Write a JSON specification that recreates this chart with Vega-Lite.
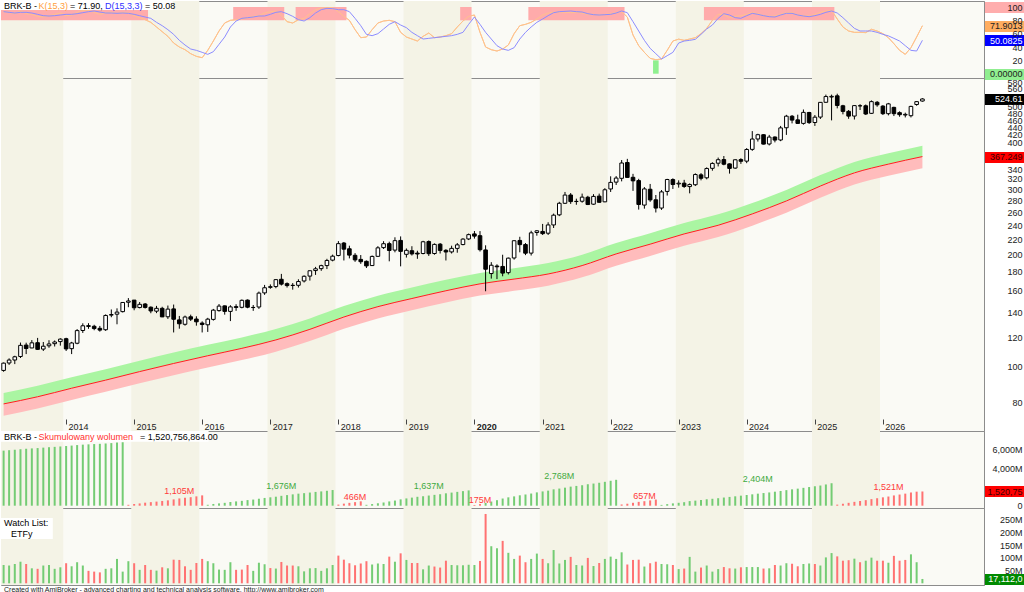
{
  "$schema": "https://vega.github.io/schema/vega-lite/v6.json",
  "padding": 0,
  "background": "#ffffff",
  "spacing": 0,
  "bounds": "flush",
  "config": {
    "font": "Liberation Sans",
    "view": {"stroke": "#8c8c8c", "strokeWidth": 1, "fill": "#fafaf5"},
    "axis": {"labelFont": "Liberation Sans", "labelFontSize": 9, "labelColor": "#222222", "grid": false, "title": null, "labelOverlap": false, "labelSeparation": -40, "labelFlush": false}
  },
  "resolve": {"scale": {"x": "independent"}},
  "datasets": {
    "years": [
      {"s": "2013-01-01", "e": "2014-01-01"},
      {"s": "2015-01-01", "e": "2016-01-01"},
      {"s": "2017-01-01", "e": "2018-01-01"},
      {"s": "2019-01-01", "e": "2020-01-01"},
      {"s": "2021-01-01", "e": "2022-01-01"},
      {"s": "2023-01-01", "e": "2024-01-01"},
      {"s": "2025-01-01", "e": "2026-01-01"}
    ],
    "zones": [
      {"s": "2013-02-01", "e": "2015-04-01", "z": "ob"},
      {"s": "2016-07-01", "e": "2017-04-01", "z": "ob"},
      {"s": "2017-06-01", "e": "2018-03-01", "z": "ob"},
      {"s": "2019-11-01", "e": "2020-01-01", "z": "ob"},
      {"s": "2020-11-01", "e": "2022-04-01", "z": "ob"},
      {"s": "2023-06-01", "e": "2025-05-01", "z": "ob"},
      {"s": "2022-09-01", "e": "2022-10-01", "z": "os"}
    ],
    "ma": [
      {"d": "2013-02", "ma": 79.4, "hi": 84.96, "lo": 73.84},
      {"d": "2013-08", "ma": 83, "hi": 88.81, "lo": 77.19},
      {"d": "2014-02", "ma": 87.5, "hi": 93.63, "lo": 81.38},
      {"d": "2014-08", "ma": 92, "hi": 98.44, "lo": 85.56},
      {"d": "2015-02", "ma": 97, "hi": 103.79, "lo": 90.21},
      {"d": "2015-08", "ma": 102, "hi": 109.14, "lo": 94.86},
      {"d": "2016-02", "ma": 107, "hi": 114.49, "lo": 99.51},
      {"d": "2016-08", "ma": 112, "hi": 119.84, "lo": 104.16},
      {"d": "2017-02", "ma": 118, "hi": 126.26, "lo": 109.74},
      {"d": "2017-08", "ma": 126, "hi": 134.82, "lo": 117.18},
      {"d": "2018-02", "ma": 136, "hi": 145.52, "lo": 126.48},
      {"d": "2018-08", "ma": 145, "hi": 155.15, "lo": 134.85},
      {"d": "2019-02", "ma": 152.5, "hi": 163.18, "lo": 141.83},
      {"d": "2019-08", "ma": 160, "hi": 171.2, "lo": 148.8},
      {"d": "2020-02", "ma": 167, "hi": 178.69, "lo": 155.31},
      {"d": "2020-08", "ma": 172, "hi": 184.04, "lo": 159.96},
      {"d": "2021-02", "ma": 177.5, "hi": 189.93, "lo": 165.08},
      {"d": "2021-08", "ma": 187, "hi": 200.09, "lo": 173.91},
      {"d": "2022-02", "ma": 201, "hi": 215.07, "lo": 186.93},
      {"d": "2022-08", "ma": 213.5, "hi": 228.45, "lo": 198.56},
      {"d": "2023-02", "ma": 227.5, "hi": 243.43, "lo": 211.58},
      {"d": "2023-08", "ma": 240, "hi": 256.8, "lo": 223.2},
      {"d": "2024-02", "ma": 257.5, "hi": 275.53, "lo": 239.48},
      {"d": "2024-08", "ma": 279, "hi": 298.53, "lo": 259.47},
      {"d": "2025-02", "ma": 306, "hi": 327.42, "lo": 284.58},
      {"d": "2025-08", "ma": 332, "hi": 355.24, "lo": 308.76},
      {"d": "2026-02", "ma": 350.5, "hi": 375.04, "lo": 325.97},
      {"d": "2026-08", "ma": 367.25, "hi": 392.96, "lo": 341.54}
    ],
    "cvlab": [
      {"d": "2015-09", "v": 1105, "t": "1,105M", "c": "d"},
      {"d": "2017-03", "v": 1676, "t": "1,676M", "c": "u"},
      {"d": "2018-04", "v": 466, "t": "466M", "c": "d"},
      {"d": "2019-05", "v": 1637, "t": "1,637M", "c": "u"},
      {"d": "2020-02", "v": 175, "t": "175M", "c": "d"},
      {"d": "2021-04", "v": 2768, "t": "2,768M", "c": "u"},
      {"d": "2022-07", "v": 657, "t": "657M", "c": "d"},
      {"d": "2024-03", "v": 2404, "t": "2,404M", "c": "u"},
      {"d": "2026-02", "v": 1521, "t": "1,521M", "c": "d"}
    ],
    "bars": [
      {"d":"2013-02","o":97.7,"h":102.6,"l":96.9,"c":102.2,"v":72,"vc":"u","cv":5890,"cc":"u","k":93,"dv":93},
      {"d":"2013-03","o":102.3,"h":105.3,"l":101.1,"c":104.2,"v":70,"vc":"u","cv":5936,"cc":"u","k":92,"dv":92},
      {"d":"2013-04","o":104.2,"h":107.0,"l":101.6,"c":106.3,"v":76,"vc":"u","cv":5985,"cc":"u","k":90,"dv":91},
      {"d":"2013-05","o":106.5,"h":116.1,"l":105.5,"c":114.1,"v":85,"vc":"u","cv":6040,"cc":"u","k":94,"dv":92},
      {"d":"2013-06","o":114.3,"h":116.0,"l":108.1,"c":111.9,"v":76,"vc":"d","cv":6090,"cc":"u","k":90,"dv":92},
      {"d":"2013-07","o":112.3,"h":117.9,"l":112.1,"c":115.9,"v":59,"vc":"u","cv":6128,"cc":"u","k":89,"dv":91},
      {"d":"2013-08","o":116.0,"h":119.5,"l":110.9,"c":111.3,"v":57,"vc":"d","cv":6165,"cc":"u","k":86,"dv":89},
      {"d":"2013-09","o":111.5,"h":116.5,"l":110.2,"c":113.5,"v":70,"vc":"u","cv":6210,"cc":"u","k":85,"dv":87},
      {"d":"2013-10","o":113.8,"h":117.8,"l":112.4,"c":115.1,"v":72,"vc":"u","cv":6257,"cc":"u","k":87,"dv":86.5},
      {"d":"2013-11","o":115.3,"h":117.6,"l":113.3,"c":116.5,"v":57,"vc":"u","cv":6294,"cc":"u","k":89,"dv":87},
      {"d":"2013-12","o":116.8,"h":119.2,"l":113.9,"c":118.6,"v":63,"vc":"u","cv":6335,"cc":"u","k":91,"dv":88},
      {"d":"2014-01","o":118.9,"h":119.6,"l":110.2,"c":111.6,"v":79,"vc":"d","cv":6387,"cc":"u","k":87,"dv":89},
      {"d":"2014-02","o":111.8,"h":116.6,"l":108.1,"c":115.8,"v":67,"vc":"u","cv":6430,"cc":"u","k":88,"dv":89},
      {"d":"2014-03","o":115.6,"h":126.2,"l":114.9,"c":125.0,"v":83,"vc":"u","cv":6484,"cc":"u","k":92,"dv":90},
      {"d":"2014-04","o":125.1,"h":130.8,"l":123.2,"c":128.8,"v":70,"vc":"u","cv":6530,"cc":"u","k":95,"dv":91.5},
      {"d":"2014-05","o":128.9,"h":130.9,"l":126.4,"c":128.3,"v":49,"vc":"d","cv":6561,"cc":"u","k":95,"dv":93},
      {"d":"2014-06","o":128.4,"h":129.6,"l":125.3,"c":126.6,"v":46,"vc":"d","cv":6591,"cc":"u","k":92,"dv":94},
      {"d":"2014-07","o":126.8,"h":128.7,"l":124.2,"c":125.4,"v":43,"vc":"d","cv":6619,"cc":"u","k":89,"dv":92.5},
      {"d":"2014-08","o":125.7,"h":138.2,"l":124.8,"c":137.3,"v":57,"vc":"u","cv":6656,"cc":"u","k":91,"dv":91},
      {"d":"2014-09","o":137.6,"h":142.5,"l":135.8,"c":138.1,"v":59,"vc":"u","cv":6695,"cc":"u","k":92,"dv":91},
      {"d":"2014-10","o":138.4,"h":143.5,"l":130.0,"c":140.2,"v":96,"vc":"u","cv":6757,"cc":"u","k":90,"dv":90.5},
      {"d":"2014-11","o":140.6,"h":149.2,"l":139.9,"c":148.8,"v":46,"vc":"u","cv":6787,"cc":"u","k":92,"dv":91},
      {"d":"2014-12","o":149.0,"h":152.9,"l":144.5,"c":150.2,"v":87,"vc":"u","cv":96,"cc":"d","k":91,"dv":90.5},
      {"d":"2015-01","o":151.0,"h":151.1,"l":141.8,"c":144.0,"v":79,"vc":"d","cv":184,"cc":"d","k":87,"dv":89},
      {"d":"2015-02","o":144.2,"h":149.2,"l":143.5,"c":147.1,"v":53,"vc":"u","cv":243,"cc":"d","k":84,"dv":87},
      {"d":"2015-03","o":147.4,"h":148.3,"l":143.3,"c":144.3,"v":72,"vc":"d","cv":323,"cc":"d","k":81,"dv":85},
      {"d":"2015-04","o":144.5,"h":145.2,"l":139.2,"c":141.2,"v":53,"vc":"d","cv":381,"cc":"d","k":77,"dv":83},
      {"d":"2015-05","o":141.0,"h":145.7,"l":139.3,"c":143.5,"v":50,"vc":"u","cv":437,"cc":"d","k":70,"dv":77},
      {"d":"2015-06","o":143.5,"h":144.9,"l":135.9,"c":136.1,"v":63,"vc":"d","cv":507,"cc":"d","k":63,"dv":72},
      {"d":"2015-07","o":136.2,"h":146.0,"l":134.4,"c":142.8,"v":59,"vc":"u","cv":572,"cc":"d","k":56,"dv":66},
      {"d":"2015-08","o":143.0,"h":146.9,"l":123.6,"c":134.1,"v":93,"vc":"d","cv":675,"cc":"d","k":46,"dv":59},
      {"d":"2015-09","o":133.6,"h":136.9,"l":126.5,"c":130.4,"v":92,"vc":"d","cv":777,"cc":"d","k":40,"dv":50},
      {"d":"2015-10","o":130.0,"h":137.2,"l":128.9,"c":136.0,"v":67,"vc":"d","cv":851,"cc":"d","k":36,"dv":43},
      {"d":"2015-11","o":136.2,"h":138.0,"l":132.7,"c":134.2,"v":53,"vc":"d","cv":910,"cc":"d","k":30,"dv":37},
      {"d":"2015-12","o":134.3,"h":136.6,"l":128.9,"c":132.0,"v":80,"vc":"d","cv":999,"cc":"d","k":26,"dv":35},
      {"d":"2016-01","o":131.0,"h":132.4,"l":123.6,"c":129.8,"v":96,"vc":"d","cv":1105,"cc":"d","k":24,"dv":32},
      {"d":"2016-02","o":129.6,"h":135.3,"l":124.0,"c":134.2,"v":87,"vc":"u","cv":98,"cc":"u","k":35,"dv":29},
      {"d":"2016-03","o":134.0,"h":143.0,"l":133.0,"c":141.9,"v":79,"vc":"u","cv":186,"cc":"u","k":49,"dv":33},
      {"d":"2016-04","o":141.5,"h":147.4,"l":140.6,"c":145.5,"v":54,"vc":"u","cv":247,"cc":"u","k":64,"dv":44},
      {"d":"2016-05","o":145.7,"h":146.0,"l":138.0,"c":140.8,"v":53,"vc":"u","cv":306,"cc":"u","k":76,"dv":55},
      {"d":"2016-06","o":140.8,"h":146.3,"l":132.6,"c":144.8,"v":83,"vc":"u","cv":399,"cc":"u","k":80,"dv":70},
      {"d":"2016-07","o":145.0,"h":147.2,"l":141.3,"c":144.3,"v":53,"vc":"d","cv":459,"cc":"u","k":81,"dv":79},
      {"d":"2016-08","o":144.4,"h":151.6,"l":143.5,"c":150.8,"v":54,"vc":"d","cv":519,"cc":"u","k":82,"dv":83},
      {"d":"2016-09","o":151.0,"h":151.6,"l":143.6,"c":144.5,"v":72,"vc":"d","cv":600,"cc":"u","k":84,"dv":84},
      {"d":"2016-10","o":144.2,"h":146.5,"l":141.3,"c":144.3,"v":49,"vc":"u","cv":655,"cc":"u","k":86,"dv":85},
      {"d":"2016-11","o":144.7,"h":159.2,"l":143.0,"c":157.7,"v":81,"vc":"u","cv":746,"cc":"u","k":87,"dv":86.5},
      {"d":"2016-12","o":157.9,"h":165.9,"l":156.0,"c":163.0,"v":75,"vc":"u","cv":830,"cc":"u","k":91,"dv":86.5},
      {"d":"2017-01","o":163.4,"h":166.4,"l":162.0,"c":164.1,"v":60,"vc":"d","cv":897,"cc":"u","k":93,"dv":89},
      {"d":"2017-02","o":164.2,"h":172.0,"l":162.5,"c":171.4,"v":58,"vc":"u","cv":962,"cc":"u","k":94,"dv":92},
      {"d":"2017-03","o":171.8,"h":177.6,"l":165.3,"c":166.7,"v":84,"vc":"d","cv":1056,"cc":"u","k":88,"dv":93},
      {"d":"2017-04","o":167.2,"h":168.5,"l":163.2,"c":165.2,"v":70,"vc":"d","cv":1135,"cc":"u","k":78,"dv":90},
      {"d":"2017-05","o":165.5,"h":167.8,"l":161.1,"c":165.3,"v":70,"vc":"d","cv":1213,"cc":"u","k":76,"dv":86},
      {"d":"2017-06","o":165.5,"h":171.8,"l":163.2,"c":169.4,"v":67,"vc":"u","cv":1288,"cc":"u","k":81,"dv":81},
      {"d":"2017-07","o":170.0,"h":176.0,"l":168.4,"c":175.0,"v":47,"vc":"u","cv":1341,"cc":"u","k":83,"dv":79},
      {"d":"2017-08","o":175.2,"h":181.3,"l":170.4,"c":181.1,"v":59,"vc":"u","cv":1407,"cc":"u","k":90,"dv":84},
      {"d":"2017-09","o":181.3,"h":185.5,"l":176.5,"c":183.3,"v":60,"vc":"u","cv":1474,"cc":"u","k":96,"dv":91},
      {"d":"2017-10","o":183.5,"h":188.0,"l":181.0,"c":186.9,"v":49,"vc":"u","cv":1529,"cc":"u","k":98.5,"dv":96},
      {"d":"2017-11","o":187.0,"h":195.0,"l":183.0,"c":193.0,"v":59,"vc":"u","cv":1595,"cc":"u","k":99,"dv":98},
      {"d":"2017-12","o":193.4,"h":200.1,"l":192.0,"c":198.2,"v":72,"vc":"u","cv":1676,"cc":"u","k":99,"dv":97.5},
      {"d":"2018-01","o":199.0,"h":217.6,"l":198.0,"c":214.2,"v":109,"vc":"d","cv":118,"cc":"d","k":93,"dv":96},
      {"d":"2018-02","o":215.0,"h":216.4,"l":193.0,"c":207.0,"v":93,"vc":"d","cv":219,"cc":"d","k":86,"dv":96},
      {"d":"2018-03","o":207.5,"h":211.5,"l":195.5,"c":199.5,"v":79,"vc":"d","cv":305,"cc":"d","k":80,"dv":93},
      {"d":"2018-04","o":199.3,"h":202.0,"l":191.4,"c":193.7,"v":71,"vc":"d","cv":381,"cc":"d","k":66,"dv":83},
      {"d":"2018-05","o":194.3,"h":199.6,"l":189.0,"c":191.5,"v":78,"vc":"d","cv":466,"cc":"d","k":54,"dv":72},
      {"d":"2018-06","o":192.0,"h":193.0,"l":184.2,"c":186.6,"v":87,"vc":"d","cv":95,"cc":"u","k":55,"dv":59},
      {"d":"2018-07","o":187.0,"h":199.0,"l":186.5,"c":197.9,"v":74,"vc":"u","cv":175,"cc":"u","k":66,"dv":57},
      {"d":"2018-08","o":198.0,"h":210.9,"l":197.5,"c":208.7,"v":78,"vc":"u","cv":260,"cc":"u","k":76,"dv":60},
      {"d":"2018-09","o":209.0,"h":217.5,"l":207.2,"c":214.1,"v":76,"vc":"u","cv":343,"cc":"u","k":79,"dv":67},
      {"d":"2018-10","o":214.2,"h":216.8,"l":192.0,"c":205.3,"v":105,"vc":"d","cv":457,"cc":"u","k":80,"dv":74},
      {"d":"2018-11","o":205.8,"h":222.8,"l":203.0,"c":218.2,"v":85,"vc":"u","cv":550,"cc":"u","k":78,"dv":78},
      {"d":"2018-12","o":218.5,"h":224.0,"l":186.1,"c":204.2,"v":118,"vc":"d","cv":678,"cc":"u","k":62,"dv":73},
      {"d":"2019-01","o":200.5,"h":207.9,"l":196.5,"c":205.5,"v":92,"vc":"u","cv":778,"cc":"u","k":55,"dv":69},
      {"d":"2019-02","o":205.0,"h":210.8,"l":199.0,"c":201.0,"v":80,"vc":"d","cv":865,"cc":"u","k":52,"dv":62},
      {"d":"2019-03","o":202.0,"h":205.0,"l":195.0,"c":200.9,"v":80,"vc":"d","cv":952,"cc":"u","k":49,"dv":57},
      {"d":"2019-04","o":201.5,"h":218.0,"l":200.5,"c":216.7,"v":55,"vc":"u","cv":1012,"cc":"u","k":56,"dv":52},
      {"d":"2019-05","o":217.0,"h":218.5,"l":198.5,"c":201.3,"v":70,"vc":"u","cv":1088,"cc":"u","k":61,"dv":53},
      {"d":"2019-06","o":201.5,"h":214.5,"l":200.0,"c":213.2,"v":66,"vc":"d","cv":1160,"cc":"u","k":54,"dv":54},
      {"d":"2019-07","o":213.5,"h":215.0,"l":201.5,"c":205.4,"v":62,"vc":"d","cv":1228,"cc":"u","k":55,"dv":55},
      {"d":"2019-08","o":205.5,"h":207.0,"l":193.0,"c":203.4,"v":89,"vc":"d","cv":1325,"cc":"u","k":57,"dv":56},
      {"d":"2019-09","o":203.5,"h":211.5,"l":201.5,"c":208.0,"v":72,"vc":"u","cv":1403,"cc":"u","k":60,"dv":57},
      {"d":"2019-10","o":208.0,"h":215.0,"l":202.5,"c":212.6,"v":71,"vc":"u","cv":1480,"cc":"u","k":70,"dv":59},
      {"d":"2019-11","o":213.0,"h":221.5,"l":212.0,"c":220.3,"v":71,"vc":"u","cv":1558,"cc":"u","k":79,"dv":62},
      {"d":"2019-12","o":220.5,"h":228.0,"l":219.0,"c":226.5,"v":73,"vc":"u","cv":1637,"cc":"u","k":86,"dv":74},
      {"d":"2020-01","o":227.5,"h":231.6,"l":221.0,"c":224.4,"v":72,"vc":"u","cv":79,"cc":"d","k":88,"dv":85},
      {"d":"2020-02","o":225.0,"h":231.5,"l":204.0,"c":206.3,"v":88,"vc":"d","cv":175,"cc":"d","k":62,"dv":74},
      {"d":"2020-03","o":206.0,"h":212.0,"l":159.5,"c":182.8,"v":273,"vc":"d","cv":289,"cc":"u","k":40,"dv":62},
      {"d":"2020-04","o":178.0,"h":191.0,"l":172.5,"c":187.4,"v":146,"vc":"u","cv":444,"cc":"u","k":36,"dv":52},
      {"d":"2020-05","o":186.5,"h":188.5,"l":172.0,"c":185.6,"v":138,"vc":"u","cv":590,"cc":"u","k":34,"dv":42},
      {"d":"2020-06","o":186.0,"h":200.0,"l":175.0,"c":178.5,"v":167,"vc":"d","cv":767,"cc":"u","k":37,"dv":37},
      {"d":"2020-07","o":179.0,"h":196.5,"l":177.0,"c":195.8,"v":120,"vc":"u","cv":894,"cc":"u","k":43,"dv":35},
      {"d":"2020-08","o":196.0,"h":218.5,"l":194.0,"c":218.1,"v":96,"vc":"u","cv":996,"cc":"u","k":60,"dv":39},
      {"d":"2020-09","o":218.5,"h":223.5,"l":203.0,"c":212.9,"v":109,"vc":"d","cv":1112,"cc":"u","k":72,"dv":52},
      {"d":"2020-10","o":213.0,"h":215.0,"l":199.5,"c":201.9,"v":83,"vc":"d","cv":1200,"cc":"u","k":74,"dv":62},
      {"d":"2020-11","o":202.0,"h":232.0,"l":199.0,"c":229.0,"v":96,"vc":"u","cv":1301,"cc":"u","k":77,"dv":70},
      {"d":"2020-12","o":229.5,"h":233.0,"l":225.0,"c":231.9,"v":117,"vc":"u","cv":1425,"cc":"u","k":82,"dv":77},
      {"d":"2021-01","o":231.0,"h":242.0,"l":226.0,"c":227.9,"v":96,"vc":"d","cv":1527,"cc":"u","k":88,"dv":82},
      {"d":"2021-02","o":228.5,"h":244.5,"l":226.0,"c":240.5,"v":79,"vc":"u","cv":1611,"cc":"u","k":91,"dv":87},
      {"d":"2021-03","o":240.5,"h":258.0,"l":236.0,"c":255.5,"v":131,"vc":"u","cv":1750,"cc":"u","k":92,"dv":91.5},
      {"d":"2021-04","o":256.0,"h":277.5,"l":254.0,"c":275.0,"v":78,"vc":"u","cv":1832,"cc":"u","k":92.5,"dv":93},
      {"d":"2021-05","o":275.0,"h":295.0,"l":274.0,"c":289.4,"v":92,"vc":"u","cv":1930,"cc":"u","k":92,"dv":93.5},
      {"d":"2021-06","o":289.5,"h":293.0,"l":274.0,"c":277.9,"v":104,"vc":"d","cv":2040,"cc":"u","k":91.5,"dv":94},
      {"d":"2021-07","o":278.0,"h":283.0,"l":272.5,"c":278.3,"v":72,"vc":"u","cv":2116,"cc":"u","k":92,"dv":93},
      {"d":"2021-08","o":278.5,"h":292.0,"l":276.0,"c":285.7,"v":70,"vc":"u","cv":2190,"cc":"u","k":91,"dv":92.5},
      {"d":"2021-09","o":285.5,"h":288.0,"l":272.0,"c":272.9,"v":100,"vc":"d","cv":2296,"cc":"u","k":89,"dv":90},
      {"d":"2021-10","o":273.5,"h":291.0,"l":272.5,"c":287.0,"v":68,"vc":"u","cv":2368,"cc":"u","k":89,"dv":88.5},
      {"d":"2021-11","o":287.5,"h":292.0,"l":276.0,"c":276.7,"v":80,"vc":"d","cv":2453,"cc":"u","k":88,"dv":88},
      {"d":"2021-12","o":277.5,"h":302.0,"l":277.0,"c":299.0,"v":96,"vc":"u","cv":2555,"cc":"u","k":89,"dv":88.5},
      {"d":"2022-01","o":300.5,"h":325.0,"l":295.0,"c":313.0,"v":105,"vc":"u","cv":2666,"cc":"u","k":90,"dv":89},
      {"d":"2022-02","o":313.5,"h":325.5,"l":308.0,"c":321.5,"v":96,"vc":"u","cv":2768,"cc":"u","k":91.5,"dv":91},
      {"d":"2022-03","o":321.0,"h":359.5,"l":315.0,"c":352.9,"v":122,"vc":"u","cv":131,"cc":"d","k":93,"dv":94},
      {"d":"2022-04","o":354.0,"h":362.1,"l":322.0,"c":322.8,"v":74,"vc":"d","cv":211,"cc":"d","k":85,"dv":91.5},
      {"d":"2022-05","o":323.0,"h":330.0,"l":297.0,"c":316.0,"v":92,"vc":"d","cv":310,"cc":"d","k":58,"dv":78},
      {"d":"2022-06","o":316.5,"h":320.0,"l":264.5,"c":273.0,"v":93,"vc":"d","cv":410,"cc":"d","k":42,"dv":64},
      {"d":"2022-07","o":272.0,"h":304.0,"l":266.0,"c":300.6,"v":66,"vc":"u","cv":481,"cc":"d","k":32,"dv":50},
      {"d":"2022-08","o":300.0,"h":310.0,"l":277.5,"c":280.8,"v":79,"vc":"d","cv":566,"cc":"d","k":23,"dv":38},
      {"d":"2022-09","o":281.0,"h":289.5,"l":259.8,"c":267.0,"v":85,"vc":"d","cv":657,"cc":"d","k":21,"dv":30},
      {"d":"2022-10","o":267.0,"h":298.5,"l":264.0,"c":295.1,"v":76,"vc":"u","cv":85,"cc":"u","k":22,"dv":22},
      {"d":"2022-11","o":296.0,"h":320.0,"l":288.5,"c":318.6,"v":75,"vc":"u","cv":168,"cc":"u","k":35,"dv":27},
      {"d":"2022-12","o":318.5,"h":321.0,"l":300.5,"c":308.9,"v":72,"vc":"d","cv":248,"cc":"u","k":49,"dv":32},
      {"d":"2023-01","o":310.0,"h":317.0,"l":303.0,"c":311.5,"v":56,"vc":"u","cv":311,"cc":"u","k":51.8,"dv":46},
      {"d":"2023-02","o":311.5,"h":318.0,"l":302.5,"c":305.2,"v":58,"vc":"d","cv":375,"cc":"u","k":50,"dv":49},
      {"d":"2023-03","o":305.0,"h":311.0,"l":292.5,"c":308.8,"v":104,"vc":"u","cv":491,"cc":"u","k":52,"dv":50},
      {"d":"2023-04","o":308.5,"h":331.0,"l":306.0,"c":328.6,"v":46,"vc":"u","cv":542,"cc":"u","k":54,"dv":51.5},
      {"d":"2023-05","o":328.0,"h":331.5,"l":317.0,"c":321.1,"v":62,"vc":"d","cv":611,"cc":"u","k":60,"dv":59},
      {"d":"2023-06","o":322.0,"h":343.5,"l":319.0,"c":341.0,"v":70,"vc":"u","cv":689,"cc":"u","k":68,"dv":67},
      {"d":"2023-07","o":341.5,"h":354.5,"l":336.5,"c":352.0,"v":46,"vc":"u","cv":740,"cc":"u","k":80,"dv":73},
      {"d":"2023-08","o":352.5,"h":365.0,"l":345.5,"c":360.2,"v":56,"vc":"u","cv":802,"cc":"u","k":89,"dv":83},
      {"d":"2023-09","o":360.5,"h":368.5,"l":348.0,"c":350.3,"v":64,"vc":"d","cv":874,"cc":"u","k":89,"dv":90},
      {"d":"2023-10","o":351.0,"h":352.0,"l":330.5,"c":341.3,"v":59,"vc":"d","cv":939,"cc":"u","k":84,"dv":88},
      {"d":"2023-11","o":342.0,"h":361.0,"l":340.5,"c":360.0,"v":58,"vc":"u","cv":1004,"cc":"u","k":86,"dv":84},
      {"d":"2023-12","o":360.5,"h":363.5,"l":351.0,"c":356.7,"v":63,"vc":"d","cv":1074,"cc":"u","k":87,"dv":83},
      {"d":"2024-01","o":357.0,"h":387.0,"l":352.5,"c":383.7,"v":64,"vc":"u","cv":1145,"cc":"u","k":89,"dv":87},
      {"d":"2024-02","o":384.0,"h":430.0,"l":380.5,"c":409.4,"v":64,"vc":"u","cv":1216,"cc":"u","k":91.5,"dv":90.5},
      {"d":"2024-03","o":409.5,"h":423.0,"l":403.0,"c":420.5,"v":64,"vc":"u","cv":1288,"cc":"u","k":90,"dv":89},
      {"d":"2024-04","o":420.5,"h":421.5,"l":396.0,"c":396.7,"v":58,"vc":"d","cv":1352,"cc":"u","k":87,"dv":87},
      {"d":"2024-05","o":397.0,"h":420.0,"l":393.5,"c":414.4,"v":59,"vc":"u","cv":1418,"cc":"u","k":86,"dv":85.5},
      {"d":"2024-06","o":414.5,"h":416.0,"l":401.0,"c":406.8,"v":72,"vc":"d","cv":1498,"cc":"u","k":86.5,"dv":85},
      {"d":"2024-07","o":407.0,"h":444.0,"l":404.0,"c":438.6,"v":70,"vc":"u","cv":1576,"cc":"u","k":89,"dv":88},
      {"d":"2024-08","o":439.0,"h":475.5,"l":420.0,"c":471.6,"v":79,"vc":"u","cv":1664,"cc":"u","k":91.5,"dv":90.5},
      {"d":"2024-09","o":471.5,"h":475.0,"l":451.0,"c":460.3,"v":77,"vc":"d","cv":1750,"cc":"u","k":91.5,"dv":90.5},
      {"d":"2024-10","o":461.0,"h":476.0,"l":450.0,"c":450.9,"v":67,"vc":"d","cv":1824,"cc":"u","k":88,"dv":88},
      {"d":"2024-11","o":451.0,"h":491.5,"l":447.5,"c":482.9,"v":76,"vc":"u","cv":1909,"cc":"u","k":87,"dv":86.5},
      {"d":"2024-12","o":482.5,"h":484.5,"l":449.5,"c":453.3,"v":78,"vc":"u","cv":1996,"cc":"u","k":86.5,"dv":85.5},
      {"d":"2025-01","o":453.5,"h":475.0,"l":444.0,"c":468.7,"v":76,"vc":"d","cv":2080,"cc":"u","k":89,"dv":87},
      {"d":"2025-02","o":469.0,"h":514.0,"l":463.5,"c":513.8,"v":70,"vc":"u","cv":2158,"cc":"u","k":92,"dv":89},
      {"d":"2025-03","o":514.0,"h":539.0,"l":513.0,"c":532.6,"v":102,"vc":"u","cv":2272,"cc":"u","k":94,"dv":92},
      {"d":"2025-04","o":531.0,"h":539.0,"l":459.5,"c":533.3,"v":119,"vc":"u","cv":2404,"cc":"u","k":95,"dv":94},
      {"d":"2025-05","o":535.0,"h":542.0,"l":495.0,"c":503.9,"v":106,"vc":"d","cv":114,"cc":"d","k":82,"dv":91},
      {"d":"2025-06","o":503.0,"h":506.0,"l":477.0,"c":485.8,"v":89,"vc":"d","cv":209,"cc":"d","k":70,"dv":84},
      {"d":"2025-07","o":486.0,"h":490.0,"l":464.0,"c":471.8,"v":91,"vc":"d","cv":307,"cc":"d","k":64,"dv":76},
      {"d":"2025-08","o":472.0,"h":505.0,"l":462.0,"c":503.5,"v":97,"vc":"u","cv":411,"cc":"d","k":62,"dv":68},
      {"d":"2025-09","o":503.0,"h":508.0,"l":490.0,"c":502.7,"v":83,"vc":"d","cv":500,"cc":"d","k":62,"dv":64},
      {"d":"2025-10","o":503.0,"h":507.0,"l":475.0,"c":478.0,"v":89,"vc":"u","cv":595,"cc":"d","k":61.6,"dv":64},
      {"d":"2025-11","o":480.0,"h":520.0,"l":478.0,"c":516.0,"v":101,"vc":"u","cv":704,"cc":"d","k":66.6,"dv":64},
      {"d":"2025-12","o":514.0,"h":518.0,"l":500.0,"c":506.0,"v":89,"vc":"d","cv":799,"cc":"d","k":64,"dv":62},
      {"d":"2026-01","o":502.0,"h":505.0,"l":475.0,"c":479.0,"v":89,"vc":"d","cv":894,"cc":"d","k":60,"dv":59},
      {"d":"2026-02","o":479.0,"h":512.0,"l":474.0,"c":509.0,"v":81,"vc":"u","cv":981,"cc":"d","k":54,"dv":56.7},
      {"d":"2026-03","o":498.0,"h":500.0,"l":472.0,"c":479.0,"v":108,"vc":"d","cv":1097,"cc":"d","k":45,"dv":53},
      {"d":"2026-04","o":482.0,"h":486.0,"l":470.0,"c":476.0,"v":89,"vc":"d","cv":1193,"cc":"d","k":35,"dv":49},
      {"d":"2026-05","o":475.0,"h":482.0,"l":468.0,"c":477.0,"v":92,"vc":"d","cv":1291,"cc":"d","k":29,"dv":42},
      {"d":"2026-06","o":473.0,"h":503.0,"l":468.0,"c":501.0,"v":114,"vc":"u","cv":1413,"cc":"d","k":39,"dv":35},
      {"d":"2026-07","o":507.0,"h":518.0,"l":503.0,"c":516.0,"v":83,"vc":"u","cv":1502,"cc":"d","k":55,"dv":34},
      {"d":"2026-08","o":518.0,"h":527.0,"l":516.0,"c":524.61,"v":17.1,"vc":"u","cv":1520.757,"cc":"d","k":71.9,"dv":50.08}
    ]
  },
  "vconcat": [
    {
      "width": 983,
      "height": 77,
      "layer": [
        {
          "data": {"name": "years"},
          "mark": {"type": "rect", "fill": "#f4f3e6", "clip": true},
          "encoding": {
            "x": {"field": "s", "type": "temporal", "axis": null, "scale": {"type": "utc", "nice": false, "padding": 0, "domain": [{"year": 2013, "month": 2, "date": 1, "utc": true}, {"year": 2027, "month": 7, "date": 13, "utc": true}]}},
            "x2": {"field": "e"}
          }
        },
        {
          "data": {"name": "bars"},
          "mark": {"type": "line", "stroke": "#ffc28c", "strokeWidth": 1},
          "encoding": {
            "x": {"field": "d", "timeUnit": "utcyearmonth", "type": "temporal", "bandPosition": 0.5, "axis": null},
            "y": {"field": "k", "type": "quantitative", "scale": {"domain": [-6.45, 109], "nice": false, "zero": false},
              "axis": {"orient": "right", "tickCount": 100, "values": [20, 40, 60, 80, 100, 0, 71.9013, 50.0825], "labelExpr": "datum.value === 0 ? '0.00000' : '' + datum.value", "labelOverlap": false, "labelSeparation": -40, "labelAlign": "right", "labelBaseline": "middle", "labelPadding": -2, "labelFlush": false, "tickSize": 40,
                "tickWidth": {"condition": {"test": "datum.value === 0 || datum.value === 100 || datum.value === 71.9013 || datum.value === 50.0825", "value": 11}, "value": 0},
                "tickColor": {"condition": [{"test": "datum.value === 100", "value": "#ffadad"}, {"test": "datum.value === 71.9013", "value": "#ffad60"}, {"test": "datum.value === 50.0825", "value": "#0000ff"}], "value": "#90ee90"},
                "labelColor": {"condition": {"test": "datum.value === 50.0825", "value": "#ffffff"}, "value": "#222222"},
                "domainColor": "#8c8c8c"}}
          }
        },
        {
          "data": {"name": "zones"},
          "transform": [{"filter": "datum.z === 'ob'"}],
          "mark": {"type": "rect", "fill": "#ffabab", "clip": true},
          "encoding": {
            "x": {"field": "s", "type": "temporal", "axis": null},
            "x2": {"field": "e"},
            "y": {"datum": 80, "type": "quantitative"},
            "y2": {"datum": 100}
          }
        },
        {
          "data": {"name": "zones"},
          "transform": [{"filter": "datum.z === 'os'"}],
          "mark": {"type": "rect", "fill": "#8ff08f", "clip": true},
          "encoding": {
            "x": {"field": "s", "type": "temporal", "axis": null},
            "x2": {"field": "e"},
            "y": {"datum": 0, "type": "quantitative"},
            "y2": {"datum": 20}
          }
        },
        {
          "data": {"name": "bars"},
          "mark": {"type": "line", "stroke": "#ffc28c", "strokeWidth": 1},
          "encoding": {
            "x": {"field": "d", "timeUnit": "utcyearmonth", "type": "temporal", "bandPosition": 0.5, "axis": null},
            "y": {"field": "k", "type": "quantitative"}
          }
        },
        {
          "data": {"name": "bars"},
          "mark": {"type": "line", "stroke": "#8c8cff", "strokeWidth": 1},
          "encoding": {
            "x": {"field": "d", "timeUnit": "utcyearmonth", "type": "temporal", "bandPosition": 0.5, "axis": null},
            "y": {"field": "dv", "type": "quantitative"}
          }
        },
        {
          "data": {"values": [{}]},
          "mark": {"type": "rect", "fill": "#ffffff"},
          "encoding": {
            "x": {"datum": {"year": 2013, "month": 2, "date": 1, "utc": true}, "type": "temporal", "axis": null},
            "x2": {"datum": {"year": 2015, "month": 8, "date": 11, "utc": true}},
            "y": {"datum": 95.5, "type": "quantitative"},
            "y2": {"datum": 109}
          }
        },
        {
          "data": {"values": [{"t": "BRK-B -"}]},
          "mark": {"type": "text", "align": "left", "baseline": "middle", "dx": 3, "fontSize": 9, "color": "#000000"},
          "encoding": {"x": {"datum": {"year": 2013, "month": 2, "date": 1, "utc": true}, "type": "temporal", "axis": null}, "y": {"datum": 100.8, "type": "quantitative"}, "text": {"field": "t"}}
        },
        {
          "data": {"values": [{"t": "K(15,3)"}]},
          "mark": {"type": "text", "align": "left", "baseline": "middle", "dx": 37.5, "fontSize": 9, "color": "#ffa040"},
          "encoding": {"x": {"datum": {"year": 2013, "month": 2, "date": 1, "utc": true}, "type": "temporal", "axis": null}, "y": {"datum": 100.8, "type": "quantitative"}, "text": {"field": "t"}}
        },
        {
          "data": {"values": [{"t": "= 71.90,"}]},
          "mark": {"type": "text", "align": "left", "baseline": "middle", "dx": 69, "fontSize": 9, "color": "#000000"},
          "encoding": {"x": {"datum": {"year": 2013, "month": 2, "date": 1, "utc": true}, "type": "temporal", "axis": null}, "y": {"datum": 100.8, "type": "quantitative"}, "text": {"field": "t"}}
        },
        {
          "data": {"values": [{"t": "D(15,3,3)"}]},
          "mark": {"type": "text", "align": "left", "baseline": "middle", "dx": 104, "fontSize": 9, "color": "#3030ff"},
          "encoding": {"x": {"datum": {"year": 2013, "month": 2, "date": 1, "utc": true}, "type": "temporal", "axis": null}, "y": {"datum": 100.8, "type": "quantitative"}, "text": {"field": "t"}}
        },
        {
          "data": {"values": [{"t": "= 50.08"}]},
          "mark": {"type": "text", "align": "left", "baseline": "middle", "dx": 144, "fontSize": 9, "color": "#000000"},
          "encoding": {"x": {"datum": {"year": 2013, "month": 2, "date": 1, "utc": true}, "type": "temporal", "axis": null}, "y": {"datum": 100.8, "type": "quantitative"}, "text": {"field": "t"}}
        }
      ]
    },
    {
      "width": 983,
      "height": 353,
      "layer": [
        {
          "data": {"name": "years"},
          "mark": {"type": "rect", "fill": "#f4f3e6", "clip": true},
          "encoding": {
            "x": {"field": "s", "type": "temporal", "scale": {"type": "utc", "nice": false, "padding": 0, "domain": [{"year": 2013, "month": 2, "date": 1, "utc": true}, {"year": 2027, "month": 7, "date": 13, "utc": true}]},
              "axis": {"orient": "bottom", "zindex": 2, "tickCount": 100, "offset": -12, "domain": false, "ticks": true, "tickSize": 5, "tickColor": "#444444", "labelAlign": "left", "labelBaseline": "top", "labelPadding": -2, "labelOffset": 2, "labelFontSize": 9, "labelColor": "#222222", "labelFlush": false, "labelOverlap": false, "labelSeparation": -40,
                "labelExpr": "utcFormat(datum.value, '%Y')",
                "labelFontWeight": {"condition": {"test": "utcyear(datum.value) === 2020", "value": "bold"}, "value": "normal"},
                "values": [
                  {"year": 2014, "month": 1, "date": 16, "utc": true}, {"year": 2015, "month": 1, "date": 16, "utc": true},
                  {"year": 2016, "month": 1, "date": 16, "utc": true}, {"year": 2017, "month": 1, "date": 16, "utc": true},
                  {"year": 2018, "month": 1, "date": 16, "utc": true}, {"year": 2019, "month": 1, "date": 16, "utc": true},
                  {"year": 2020, "month": 1, "date": 16, "utc": true}, {"year": 2021, "month": 1, "date": 16, "utc": true},
                  {"year": 2022, "month": 1, "date": 16, "utc": true}, {"year": 2023, "month": 1, "date": 16, "utc": true},
                  {"year": 2024, "month": 1, "date": 16, "utc": true}, {"year": 2025, "month": 1, "date": 16, "utc": true},
                  {"year": 2026, "month": 1, "date": 16, "utc": true}
                ]}},
            "x2": {"field": "e"}
          }
        },
        {
          "data": {"name": "ma"},
          "mark": {"type": "area", "fill": "#aaf5a2", "interpolate": "monotone"},
          "encoding": {
            "x": {"field": "d", "timeUnit": "utcyearmonth", "type": "temporal", "bandPosition": 0.5},
            "y": {"field": "ma", "type": "quantitative", "scale": {"type": "log", "domain": [67.14, 597.4], "nice": false, "zero": false},
              "axis": {"orient": "right", "tickCount": 100, "values": [80, 100, 120, 140, 160, 180, 200, 220, 240, 260, 280, 300, 320, 340, 400, 420, 440, 460, 480, 500, 560, 580, 524.61, 367.249], "labelExpr": "'' + datum.value", "labelOverlap": false, "labelSeparation": -40, "labelAlign": "right", "labelBaseline": "middle", "labelPadding": -2, "labelFlush": false, "tickSize": 40,
                "tickWidth": {"condition": {"test": "datum.value === 524.61 || datum.value === 367.249", "value": 11}, "value": 0},
                "tickColor": {"condition": {"test": "datum.value === 524.61", "value": "#000000"}, "value": "#ff0000"},
                "labelColor": {"condition": [{"test": "datum.value === 524.61", "value": "#ffffff"}, {"test": "datum.value === 367.249", "value": "#3a0000"}], "value": "#222222"},
                "domainColor": "#8c8c8c"}},
            "y2": {"field": "hi"}
          }
        },
        {
          "data": {"name": "ma"},
          "mark": {"type": "area", "fill": "#ffbcbc", "interpolate": "monotone"},
          "encoding": {
            "x": {"field": "d", "timeUnit": "utcyearmonth", "type": "temporal", "bandPosition": 0.5},
            "y": {"field": "lo", "type": "quantitative"},
            "y2": {"field": "ma"}
          }
        },
        {
          "data": {"name": "ma"},
          "mark": {"type": "line", "stroke": "#ff1e1e", "strokeWidth": 1, "interpolate": "monotone"},
          "encoding": {
            "x": {"field": "d", "timeUnit": "utcyearmonth", "type": "temporal", "bandPosition": 0.5},
            "y": {"field": "ma", "type": "quantitative"}
          }
        },
        {
          "data": {"name": "bars"},
          "mark": {"type": "rule", "color": "#000000", "strokeWidth": 1},
          "encoding": {
            "x": {"field": "d", "timeUnit": "utcyearmonth", "type": "temporal", "bandPosition": 0.5},
            "y": {"field": "l", "type": "quantitative"},
            "y2": {"field": "h"}
          }
        },
        {
          "data": {"name": "bars"},
          "mark": {"type": "bar", "width": 3.6, "stroke": "#000000", "strokeWidth": 1},
          "encoding": {
            "x": {"field": "d", "timeUnit": "utcyearmonth", "type": "temporal", "bandPosition": 0.5},
            "y": {"field": "o", "type": "quantitative"},
            "y2": {"field": "c"},
            "fill": {"condition": {"test": "datum.c >= datum.o", "value": "#ffffff"}, "value": "#000000"}
          }
        }
      ]
    },
    {
      "width": 983,
      "height": 77,
      "layer": [
        {
          "data": {"name": "years"},
          "mark": {"type": "rect", "fill": "#f4f3e6", "clip": true},
          "encoding": {
            "x": {"field": "s", "type": "temporal", "axis": null, "scale": {"type": "utc", "nice": false, "padding": 0, "domain": [{"year": 2013, "month": 2, "date": 1, "utc": true}, {"year": 2027, "month": 7, "date": 13, "utc": true}]}},
            "x2": {"field": "e"}
          }
        },
        {
          "data": {"name": "bars"},
          "mark": {"type": "bar", "width": 2},
          "encoding": {
            "x": {"field": "d", "timeUnit": "utcyearmonth", "type": "temporal", "bandPosition": 0.5, "axis": null},
            "y": {"field": "cv", "type": "quantitative", "stack": null, "scale": {"domain": [-246, 7989], "nice": false, "zero": false},
              "axis": {"orient": "right", "tickCount": 100, "values": [0, 4000, 6000, 1520.756864], "labelExpr": "datum.value === 0 ? '0' : datum.value < 2000 ? '1,520,75' : format(datum.value, ',') + 'M'", "labelOverlap": false, "labelSeparation": -40, "labelAlign": "right", "labelBaseline": "middle", "labelPadding": -2, "labelFlush": false, "tickSize": 40,
                "tickWidth": {"condition": {"test": "datum.value === 1520.756864", "value": 11}, "value": 0},
                "tickColor": "#ff0000",
                "labelColor": {"condition": {"test": "datum.value === 1520.756864", "value": "#3a0000"}, "value": "#222222"},
                "domainColor": "#8c8c8c"}},
            "color": {"condition": {"test": "datum.cc === 'u'", "value": "#74cc74"}, "value": "#ff7272"}
          }
        },
        {
          "data": {"name": "cvlab"},
          "mark": {"type": "text", "baseline": "bottom", "align": "center", "fontSize": 9, "dy": 1},
          "encoding": {
            "x": {"field": "d", "timeUnit": "utcyearmonth", "type": "temporal", "bandPosition": 0.5, "axis": null},
            "y": {"field": "v", "type": "quantitative"},
            "text": {"field": "t"},
            "color": {"condition": {"test": "datum.c === 'u'", "value": "#3faa3f"}, "value": "#ff3a3a"}
          }
        },
        {
          "data": {"values": [{}]},
          "mark": {"type": "rect", "fill": "#ffffff"},
          "encoding": {
            "x": {"datum": {"year": 2013, "month": 2, "date": 1, "utc": true}, "type": "temporal", "axis": null},
            "x2": {"datum": {"year": 2016, "month": 2, "date": 20, "utc": true}},
            "y": {"datum": 6830, "type": "quantitative"},
            "y2": {"datum": 7989}
          }
        },
        {
          "data": {"values": [{"t": "BRK-B -"}]},
          "mark": {"type": "text", "align": "left", "baseline": "middle", "dx": 3, "fontSize": 9, "color": "#000000"},
          "encoding": {"x": {"datum": {"year": 2013, "month": 2, "date": 1, "utc": true}, "type": "temporal", "axis": null}, "y": {"datum": 7369, "type": "quantitative"}, "text": {"field": "t"}}
        },
        {
          "data": {"values": [{"t": "Skumulowany wolumen"}]},
          "mark": {"type": "text", "align": "left", "baseline": "middle", "dx": 37.5, "fontSize": 9, "color": "#ff3030"},
          "encoding": {"x": {"datum": {"year": 2013, "month": 2, "date": 1, "utc": true}, "type": "temporal", "axis": null}, "y": {"datum": 7369, "type": "quantitative"}, "text": {"field": "t"}}
        },
        {
          "data": {"values": [{"t": "= 1,520,756,864.00"}]},
          "mark": {"type": "text", "align": "left", "baseline": "middle", "dx": 139, "fontSize": 9, "color": "#000000"},
          "encoding": {"x": {"datum": {"year": 2013, "month": 2, "date": 1, "utc": true}, "type": "temporal", "axis": null}, "y": {"datum": 7369, "type": "quantitative"}, "text": {"field": "t"}}
        }
      ]
    },
    {
      "width": 983,
      "height": 77,
      "title": {"text": "Created with AmiBroker - advanced charting and technical analysis software. http://www.amibroker.com", "orient": "bottom", "anchor": "start", "fontSize": 7, "fontWeight": "normal", "color": "#222222", "offset": 1, "dx": 3},
      "layer": [
        {
          "data": {"name": "years"},
          "mark": {"type": "rect", "fill": "#f4f3e6", "clip": true},
          "encoding": {
            "x": {"field": "s", "type": "temporal", "axis": null, "scale": {"type": "utc", "nice": false, "padding": 0, "domain": [{"year": 2013, "month": 2, "date": 1, "utc": true}, {"year": 2027, "month": 7, "date": 13, "utc": true}]}},
            "x2": {"field": "e"}
          }
        },
        {
          "data": {"name": "bars"},
          "mark": {"type": "bar", "width": 2},
          "encoding": {
            "x": {"field": "d", "timeUnit": "utcyearmonth", "type": "temporal", "bandPosition": 0.5, "axis": null},
            "y": {"field": "v", "type": "quantitative", "stack": null, "scale": {"domain": [-6.7, 296.5], "nice": false, "zero": false},
              "axis": {"orient": "right", "tickCount": 100, "values": [50, 100, 150, 200, 250, 17.112], "labelExpr": "datum.value < 20 ? '17,112,0' : datum.value + 'M'", "labelOverlap": false, "labelSeparation": -40, "labelAlign": "right", "labelBaseline": "middle", "labelPadding": -2, "labelFlush": false, "tickSize": 40,
                "tickWidth": {"condition": {"test": "datum.value === 17.112", "value": 11}, "value": 0},
                "tickColor": "#008a00",
                "labelColor": {"condition": {"test": "datum.value === 17.112", "value": "#ffffff"}, "value": "#222222"},
                "domainColor": "#8c8c8c"}},
            "color": {"condition": {"test": "datum.vc === 'u'", "value": "#74cc74"}, "value": "#ff7272"}
          }
        },
        {
          "data": {"values": [{}]},
          "mark": {"type": "rect", "fill": "#ffffff"},
          "encoding": {
            "x": {"datum": {"year": 2013, "month": 2, "date": 1, "utc": true}, "type": "temporal", "axis": null},
            "x2": {"datum": {"year": 2013, "month": 11, "date": 6, "utc": true}},
            "y": {"datum": 174.5, "type": "quantitative"},
            "y2": {"datum": 257.1}
          }
        },
        {
          "data": {"values": [{"t": "Watch List:"}]},
          "mark": {"type": "text", "align": "left", "baseline": "middle", "dx": 3, "fontSize": 9, "color": "#000000"},
          "encoding": {"x": {"datum": {"year": 2013, "month": 2, "date": 1, "utc": true}, "type": "temporal", "axis": null}, "y": {"datum": 237.4, "type": "quantitative"}, "text": {"field": "t"}}
        },
        {
          "data": {"values": [{"t": "ETFy"}]},
          "mark": {"type": "text", "align": "left", "baseline": "middle", "dx": 10, "fontSize": 9, "color": "#000000"},
          "encoding": {"x": {"datum": {"year": 2013, "month": 2, "date": 1, "utc": true}, "type": "temporal", "axis": null}, "y": {"datum": 194.1, "type": "quantitative"}, "text": {"field": "t"}}
        }
      ]
    }
  ]
}
